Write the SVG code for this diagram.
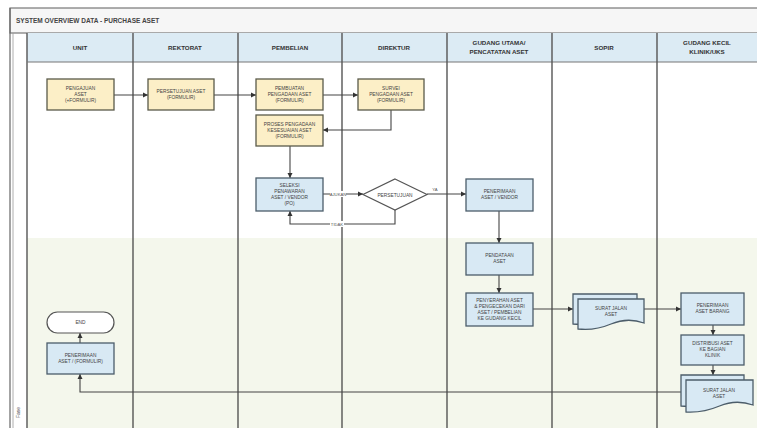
<svg xmlns="http://www.w3.org/2000/svg" width="757" height="428" viewBox="0 0 757 428">
<defs>
<marker id="ah" markerWidth="6" markerHeight="6" refX="5" refY="3" orient="auto" markerUnits="userSpaceOnUse">
<path d="M0,0.5 L5,3 L0,5.5 Z" fill="#333"/>
</marker>
<style>
.frame{fill:none;stroke:#666;stroke-width:1.2}
.lane{stroke:#555;stroke-width:1.4}
.hdr{font-family:"Liberation Sans",Arial,sans-serif;font-size:6.2px;font-weight:bold;fill:#333;text-anchor:middle}
.t{font-family:"Liberation Sans",Arial,sans-serif;font-size:4.8px;fill:#444;text-anchor:middle}
.y{fill:#fcefc7;stroke:#5a5a4a;stroke-width:1.3}
.b{fill:#d8e9f4;stroke:#4c5d6a;stroke-width:1.3}
.w{fill:#ffffff;stroke:#555;stroke-width:1.2}
.c{fill:none;stroke:#444;stroke-width:1.1;marker-end:url(#ah)}
.cn{fill:none;stroke:#444;stroke-width:1.1}
.lb{font-family:"Liberation Sans",Arial,sans-serif;font-size:4.2px;fill:#555;text-anchor:middle}
</style>
</defs>
<rect width="757" height="428" fill="#ffffff"/>
<g id="pool">
<rect x="10" y="8" width="760" height="25" fill="#f6f6f6" stroke="#777" stroke-width="1.2"/>
<text x="16" y="23" font-family="Liberation Sans, Arial, sans-serif" font-size="6.5" font-weight="bold" fill="#444">SYSTEM OVERVIEW DATA - PURCHASE ASET</text>
<rect x="27" y="238" width="730" height="190" fill="#f4f7ec"/>
<rect x="27" y="33" width="730" height="29" fill="#dcebf4"/>
<line x1="10" y1="8" x2="10" y2="428" class="frame"/>
<line x1="13" y1="33" x2="13" y2="428" stroke="#999" stroke-width="0.8"/>
<line x1="27" y1="33" x2="27" y2="428" class="lane"/>
<line x1="27" y1="62" x2="757" y2="62" stroke="#777" stroke-width="1.2"/>
<line x1="133" y1="33" x2="133" y2="428" class="lane"/>
<line x1="238" y1="33" x2="238" y2="428" class="lane"/>
<line x1="342" y1="33" x2="342" y2="428" class="lane"/>
<line x1="447" y1="33" x2="447" y2="428" class="lane"/>
<line x1="552" y1="33" x2="552" y2="428" class="lane"/>
<line x1="657" y1="33" x2="657" y2="428" class="lane"/>
<text x="20" y="418" transform="rotate(-90 20 418)" font-family="Liberation Sans, Arial, sans-serif" font-size="5" fill="#555">Fase</text>
<text x="80" y="50" class="hdr">UNIT</text>
<text x="185" y="50" class="hdr">REKTORAT</text>
<text x="290" y="50" class="hdr">PEMBELIAN</text>
<text x="394" y="50" class="hdr">DIREKTUR</text>
<text x="499" y="45" class="hdr">GUDANG UTAMA/</text>
<text x="499" y="54" class="hdr">PENCATATAN ASET</text>
<text x="604" y="50" class="hdr">SOPIR</text>
<text x="707" y="45" class="hdr">GUDANG KECIL</text>
<text x="707" y="54" class="hdr">KLINIK/UKS</text>
</g>
<g id="connectors">
<path d="M114,95 H148" class="c"/>
<path d="M214,95 H256" class="c"/>
<path d="M323,95 H358" class="c"/>
<path d="M391,110 V130 H323" class="c"/>
<path d="M290,146 V178" class="c"/>
<path d="M323,194 H363" class="c"/>
<rect x="330" y="191" width="16" height="6" fill="#fff"/>
<text x="338" y="195.6" class="lb">AJUKAN</text>
<path d="M427,194 H466" class="c"/>
<text x="435" y="191" class="lb">YA</text>
<path d="M395,210 V224 H290 V211" class="c"/>
<rect x="330" y="221" width="14" height="6" fill="#fff"/>
<text x="337" y="225.6" class="lb">TIDAK</text>
<path d="M499,211 V243" class="c"/>
<path d="M499,275 V293" class="c"/>
<path d="M533,309 H573" class="c"/>
<path d="M644,309 H681" class="c"/>
<path d="M713,325 V335" class="c"/>
<path d="M713,365 V375" class="c"/>
<path d="M681,392 H80 V374" class="c"/>
<path d="M80,343 V333" class="c"/>
</g>
<g id="n1"><rect x="47" y="79" width="67" height="31" class="y"/>
<text x="80.5" y="90" class="t">PENGAJUAN</text><text x="80.5" y="96" class="t">ASET</text><text x="80.5" y="102" class="t">(+FORMULIR)</text></g>
<g id="n2"><rect x="148" y="79" width="66" height="31" class="y"/>
<text x="181" y="93" class="t">PERSETUJUAN ASET</text><text x="181" y="99" class="t">(FORMULIR)</text></g>
<g id="n3"><rect x="256" y="79" width="67" height="31" class="y"/>
<text x="289.5" y="90" class="t">PEMBUATAN</text><text x="289.5" y="96" class="t">PENGADAAN ASET</text><text x="289.5" y="102" class="t">(FORMULIR)</text></g>
<g id="n4"><rect x="358" y="79" width="66" height="31" class="y"/>
<text x="391" y="90" class="t">SURVEI</text><text x="391" y="96" class="t">PENGADAAN ASET</text><text x="391" y="102" class="t">(FORMULIR)</text></g>
<g id="n5"><rect x="256" y="115" width="67" height="31" class="y"/>
<text x="289.5" y="126" class="t">PROSES PENGADAAN</text><text x="289.5" y="132" class="t">KESESUAIAN ASET</text><text x="289.5" y="138" class="t">(FORMULIR)</text></g>
<g id="n6"><rect x="256" y="178" width="67" height="33" class="b"/>
<text x="289.5" y="187" class="t">SELEKSI</text><text x="289.5" y="193" class="t">PENAWARAN</text><text x="289.5" y="199" class="t">ASET / VENDOR</text><text x="289.5" y="205" class="t">(PO)</text></g>
<g id="n7"><path d="M395,179 L427,194.5 L395,210 L363,194.5 Z" class="w"/>
<text x="395" y="196.5" class="t">PERSETUJUAN</text></g>
<g id="n8"><rect x="466" y="179" width="67" height="32" class="b"/>
<text x="499.5" y="193" class="t">PENERIMAAN</text><text x="499.5" y="199" class="t">ASET / VENDOR</text></g>
<g id="n9"><rect x="466" y="243" width="67" height="32" class="b"/>
<text x="499.5" y="257" class="t">PENDATAAN</text><text x="499.5" y="263" class="t">ASET</text></g>
<g id="n10"><rect x="466" y="293" width="67" height="33" class="b"/>
<text x="499.5" y="302" class="t">PENYERAHAN ASET</text><text x="499.5" y="308" class="t">&amp; PENGECEKAN DARI</text><text x="499.5" y="314" class="t">ASET / PEMBELIAN</text><text x="499.5" y="320" class="t">KE GUDANG KECIL</text></g>
<g id="n11">
<path d="M573,294 H637 V318 Q621,312 605,319 T573,324 Z" class="b"/>
<path d="M578,299 H644 V323 Q627.5,317 611,324 T578,329 Z" class="b"/>
<text x="611" y="310" class="t">SURAT JALAN</text><text x="611" y="316" class="t">ASET</text></g>
<g id="n12"><rect x="681" y="293" width="63" height="32" class="b"/>
<text x="712.5" y="307" class="t">PENERIMAAN</text><text x="712.5" y="313" class="t">ASET BARANG</text></g>
<g id="n13"><rect x="681" y="335" width="63" height="30" class="b"/>
<text x="712.5" y="345" class="t">DISTRIBUSI ASET</text><text x="712.5" y="351" class="t">KE BAGIAN</text><text x="712.5" y="357" class="t">KLINIK</text></g>
<g id="n14">
<path d="M681,375 H744 V400 Q728,394 712,401 T681,406 Z" class="b"/>
<path d="M686,380 H753 V405 Q736,399 719.5,406 T686,412 Z" class="b"/>
<text x="719" y="392" class="t">SURAT JALAN</text><text x="719" y="398" class="t">ASET</text></g>
<g id="n15"><rect x="47" y="312" width="67" height="21" rx="10.5" class="w"/>
<text x="80.5" y="324" class="t">END</text></g>
<g id="n16"><rect x="47" y="343" width="67" height="31" class="b"/>
<text x="80.5" y="357" class="t">PENERIMAAN</text><text x="80.5" y="363" class="t">ASET / (FORMULIR)</text></g>
</svg>
